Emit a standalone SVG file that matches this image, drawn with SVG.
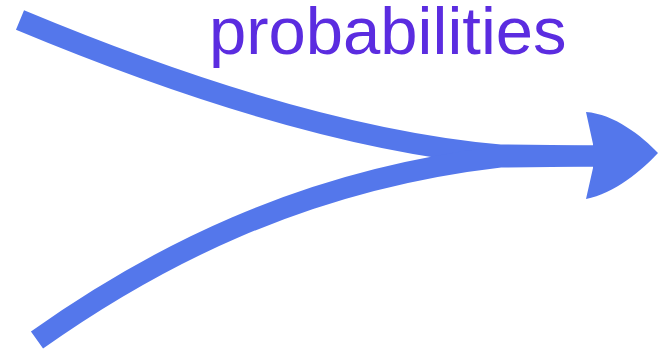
<svg xmlns="http://www.w3.org/2000/svg" width="658" height="354" viewBox="0 0 658 354">
  <style>
    .flow { fill: none; stroke: #5477eb; stroke-width: 21; stroke-linecap: butt; stroke-linejoin: round; }
    .head { fill: #5477eb; stroke: none; }
    .label { font-family: "Liberation Sans", Arial, sans-serif; font-size: 67px; fill: #5b2ce0; }
  </style>
  <rect width="658" height="354" fill="#ffffff"/>
  <g id="label-probabilities">
    <text class="label" x="209" y="54">probabilities</text>
  </g>
  <g id="connectors">
    <path class="flow" d="M20,20 C140,70 330,140 500,155 L595,156"/>
    <path class="flow" d="M37,340 C150,260 300,180 500,157 L595,156"/>
    <path class="head" d="M586,112 C614,114 642,136 658,153 C642,170 614,194 586,199 L593,168 L593,144 Z"/>
  </g>
</svg>
